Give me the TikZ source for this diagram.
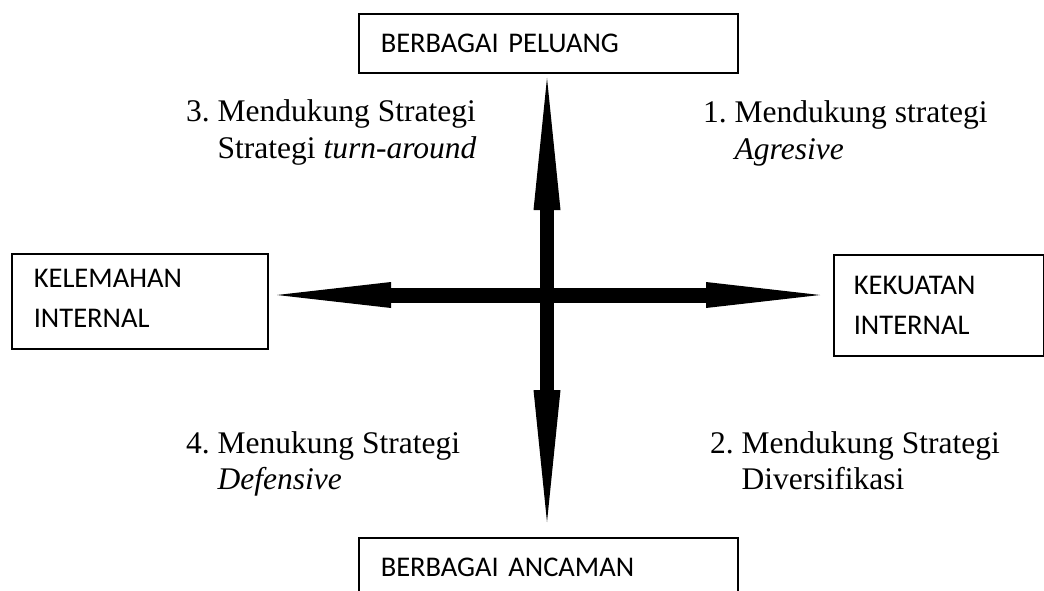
\documentclass[tikz,border=0pt]{standalone}
\usepackage{fontspec}
\setmainfont{Liberation Serif}
\newfontfamily\boxfont{Carlito}
\usetikzlibrary{arrows.meta}
\tikzset{
  boxnode/.style={draw=black, line width=1.6pt, rectangle, inner ysep=0pt,
    font=\boxfont\fontsize{28.5}{40}\selectfont, align=left, anchor=north west},
  quadtext/.style={anchor=base west, inner sep=0pt,
    font=\fontsize{31.5}{36.5}\selectfont},
  vhead/.tip={Triangle[length=132pt, width=27pt, line width=0pt]},
  hhead/.tip={Triangle[length=114pt, width=26pt, line width=0pt]}
}
\begin{document}
\begin{tikzpicture}[x=1pt, y=-1pt]
\useasboundingbox (0,0) rectangle (1044,591);
% boxes
\node[boxnode, minimum width=379pt, minimum height=59pt, inner xsep=22pt, text width=335pt] (peluang) at (358,13) {BERBAGAI PELUANG};
\node[boxnode, minimum width=379pt, minimum height=59pt, inner xsep=22pt, text width=335pt] (ancaman) at (358,537) {BERBAGAI ANCAMAN};
\node[boxnode, minimum width=256pt, minimum height=95pt, inner xsep=22pt, text width=212pt] (kelemahan) at (11,253) {KELEMAHAN\\INTERNAL\rule[-6pt]{0pt}{6pt}};
\node[boxnode, minimum width=210pt, minimum height=101pt, inner xsep=20pt, text width=170pt] (kekuatan) at (833,254) {KEKUATAN\\INTERNAL};
% arrow tips
\coordinate (ttip) at (547,78);
\coordinate (btip) at (547,522);
\coordinate (ltip) at (277,295);
\coordinate (rtip) at (820,295);
\draw[line width=14pt, vhead-vhead] (btip) -- (ttip);
\draw[line width=15pt, hhead-hhead] (ltip) -- (rtip);
% quadrant texts
\node[quadtext] (q3) at (186,122) {\begin{tabular}[t]{@{}l@{}}3.\ Mendukung Strategi\\\hphantom{3.\ }Strategi \textit{turn-around}\end{tabular}};
\node[quadtext] (q1) at (703,123) {\begin{tabular}[t]{@{}l@{}}1.\ Mendukung strategi\\\hphantom{1.\ }\textit{Agresive}\end{tabular}};
\node[quadtext] (q4) at (186,453) {\begin{tabular}[t]{@{}l@{}}4.\ Menukung Strategi\\\hphantom{4.\ }\textit{Defensive}\end{tabular}};
\node[quadtext] (q2) at (710,453) {\begin{tabular}[t]{@{}l@{}}2.\ Mendukung Strategi\\\hphantom{2.\ }Diversifikasi\end{tabular}};
\end{tikzpicture}
\end{document}
